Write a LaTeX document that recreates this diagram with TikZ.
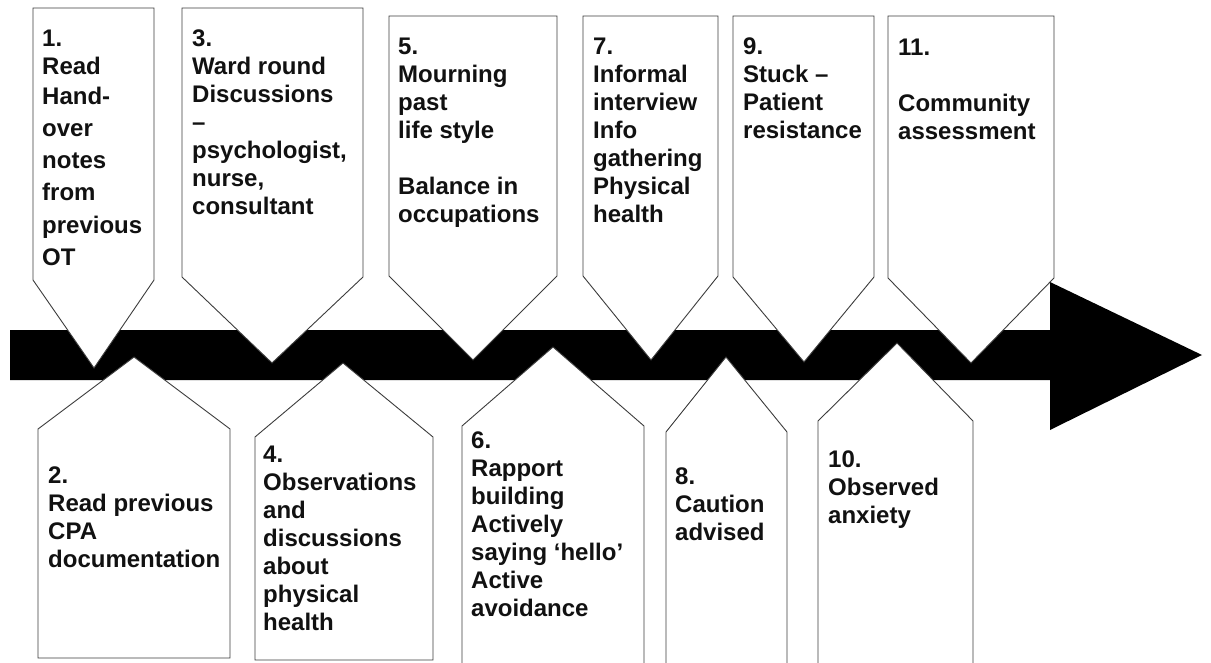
\documentclass[tikz,border=0pt]{standalone}
\usepackage{fontspec}
\setmainfont{Liberation Sans}
\definecolor{edgegray}{HTML}{3C3C3C}
\definecolor{inkblack}{HTML}{111111}
% a labelled tag: left, right, flat end, shoulder, tip x, tip y
\newcommand\stageshape[6]{%
  \path[stage] (#1,#3) -- (#2,#3) -- (#2,#4) -- (#5,#6) -- (#1,#4) -- cycle;}
\newcommand\firstln{\rule{0pt}{18pt}}
\begin{document}
\begin{tikzpicture}[x=1pt,y=-1pt,
  stage/.style={draw=edgegray, fill=white, line width=0.9pt, line join=miter},
  steptext/.style={anchor=north west, inner sep=0pt, align=left, text=inkblack,
    font=\bfseries\fontsize{24}{28}\selectfont},
  timeline/.style={fill=black, draw=none}]
\useasboundingbox (0,0) rectangle (1211,663);
\clip (0,0) rectangle (1211,663);

% the timeline arrow
\path[timeline] (10,330) -- (1050,330) -- (1050,282) -- (1202,355)
  -- (1050,430) -- (1050,380) -- (10,380) -- cycle;

% stages above the line, pointing down
\stageshape{33}{154}{8}{280}{94}{368}
\stageshape{182}{363}{8}{277}{272}{363}
\stageshape{389}{557}{16}{276}{473}{360}
\stageshape{583}{718}{16}{276}{651}{360}
\stageshape{733}{874}{16}{277}{804}{362}
\stageshape{888}{1054}{16}{278}{971}{363}

% stages below the line, pointing up
\stageshape{38}{230}{658}{429}{134}{357}
\stageshape{255}{433}{660}{437}{343}{363}
\stageshape{462}{644}{690}{426}{553}{347}
\stageshape{666}{787}{690}{432}{726}{357}
\stageshape{818}{973}{690}{421}{897}{343}

% texts
\node[steptext] (t1) at (42,28) {\firstln 1.\\ Read\\[2pt] Hand-\\[4pt] over\\[4pt] notes\\[4pt] from\\[5pt] previous\\[4pt] OT};
\node[steptext] (t3) at (192,28) {\firstln 3.\\ Ward round\\ Discussions\\ –\\ psychologist,\\ nurse,\\ consultant};
\node[steptext] (t5) at (398,36) {\firstln 5.\\ Mourning\\ past\\ life style\\[28pt] Balance in\\ occupations};
\node[steptext] (t7) at (593,36) {\firstln 7.\\ Informal\\ interview\\ Info\\ gathering\\ Physical\\ health};
\node[steptext] (t9) at (743,36) {\firstln 9.\\ Stuck –\\ Patient\\ resistance};
\node[steptext] (t11) at (898,37) {\firstln 11.\\[28pt] Community\\ assessment};

\node[steptext] (t2) at (48,465) {\firstln 2.\\ Read previous\\ CPA\\ documentation};
\node[steptext] (t4) at (263,444) {\firstln 4.\\ Observations\\ and\\ discussions\\ about\\ physical\\ health};
\node[steptext] (t6) at (471,430) {\firstln 6.\\ Rapport\\ building\\ Actively\\ saying ‘hello’\\ Active\\ avoidance};
\node[steptext] (t8) at (675,466) {\firstln 8.\\ Caution\\ advised};
\node[steptext] (t10) at (828,449) {\firstln 10.\\ Observed\\ anxiety};
\end{tikzpicture}
\end{document}
